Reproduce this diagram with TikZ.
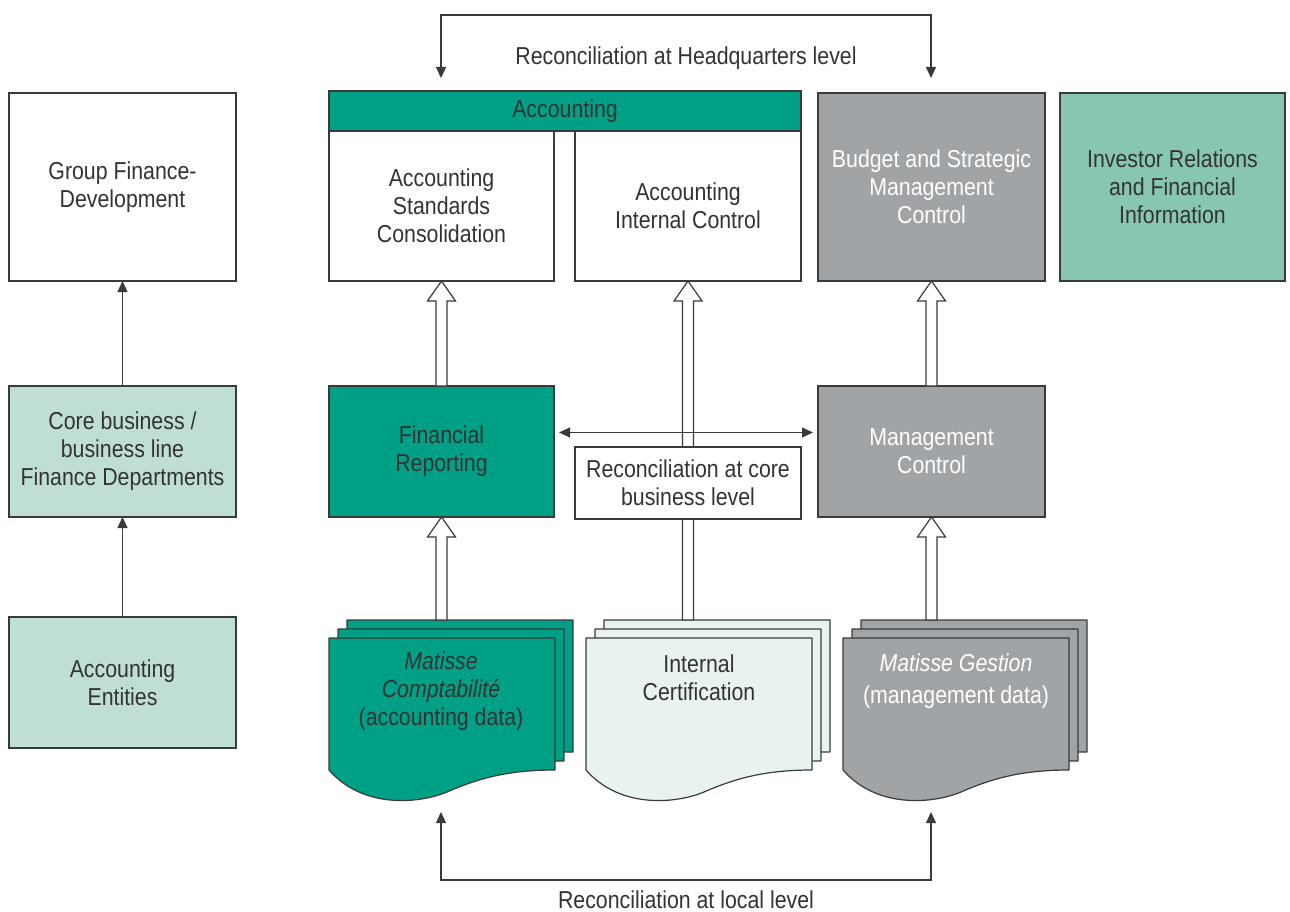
\documentclass[tikz,border=0pt]{standalone}
\usepackage{fontspec}
\setmainfont{Liberation Sans}[FakeStretch=0.87]
\usetikzlibrary{arrows.meta,calc}

\definecolor{accteal}{HTML}{00A087}
\definecolor{mgmtgray}{HTML}{A1A4A7}
\definecolor{invgreen}{HTML}{87C6B0}
\definecolor{palegreen}{HTML}{BEDFD2}
\definecolor{certpale}{HTML}{E8F3EF}
\definecolor{inkgray}{HTML}{3A3A3A}
\definecolor{txtgray}{HTML}{333333}

\tikzset{
  box/.style={draw=inkgray, line width=1.2pt, outer sep=0pt, inner sep=0pt,
    anchor=north west, align=center, text=txtgray},
  docline/.style={draw=inkgray, line width=1.2pt, line join=round},
  hollow/.style={draw=inkgray, fill=white, line width=1.2pt, line join=miter},
  tri/.tip={Triangle[width=10pt,length=11pt]},
  thinarrow/.style={draw=inkgray, line width=1.2pt, -tri},
  twoway/.style={draw=inkgray, line width=1.2pt, tri-tri},
  lbl/.style={text=txtgray, align=center, inner sep=0pt}
}

% one sheet of a document stack, top-left corner at (#1,#2)
\newcommand{\docpage}[3]{%
  \begin{scope}[shift={(#1,#2)}]
    \filldraw[docline, fill=#3] (0,0) -- (226,0) -- (226,132)
      .. controls (180,132) and (150,140) .. (118,154)
      .. controls (92,165) and (35,172) .. (0,132) -- cycle;
  \end{scope}}

% three stacked sheets, front sheet at (#1,#2)
\newcommand{\docstack}[3]{%
  \docpage{#1+18}{#2-18}{#3}%
  \docpage{#1+9}{#2-9}{#3}%
  \docpage{#1}{#2}{#3}}

% wide outlined arrow pointing up: from the level of #1 to the tip at #2
\newcommand{\hollowup}[2]{%
  \draw[hollow] let \p1=(#1), \p2=(#2) in
    (\x2-5.5pt,\y1) -- (\x2-5.5pt,\y2-20pt) -- (\x2-14pt,\y2-20pt) -- (\x2,\y2)
    -- (\x2+14pt,\y2-20pt) -- (\x2+5.5pt,\y2-20pt) -- (\x2+5.5pt,\y1) -- cycle;}

\begin{document}
\begin{tikzpicture}[x=1pt, y=-1pt, font=\fontsize{24.5}{28}\selectfont]
\useasboundingbox (0,0) rectangle (1290,912);

% left column
\node[box, fill=white, minimum width=227pt, minimum height=188pt] (gfd) at (9,93) {Group Finance-\\Development};
\node[box, fill=palegreen, minimum width=227pt, minimum height=131pt] (core) at (9,386) {Core business /\\business line\\Finance Departments};
\node[box, fill=palegreen, minimum width=227pt, minimum height=131pt] (ent) at (9,617) {Accounting\\Entities};

% headquarters row
\node[box, fill=accteal, minimum width=472pt, minimum height=40pt] (hdr) at (329,91) {Accounting};
\node[box, fill=white, minimum width=225pt, minimum height=150pt] (asc) at (329,131) {Accounting\\Standards\\Consolidation};
\node[box, fill=white, minimum width=226pt, minimum height=150pt] (aic) at (575,131) {Accounting\\Internal Control};
\node[box, fill=mgmtgray, text=white, minimum width=227pt, minimum height=188pt] (bsm) at (818,93) {Budget and Strategic\\Management\\Control};
\node[box, fill=invgreen, minimum width=225pt, minimum height=188pt] (inv) at (1060,93) {Investor Relations\\and Financial\\Information};

% core business row
\node[box, fill=accteal, minimum width=225pt, minimum height=131pt] (fr) at (329,386) {Financial\\Reporting};
\node[box, fill=mgmtgray, text=white, minimum width=227pt, minimum height=131pt] (mc) at (818,386) {Management\\Control};

% local document stacks
\docstack{329}{638}{accteal}
\docstack{586}{638}{certpale}
\docstack{843}{638}{mgmtgray}
\coordinate (mcback) at (441,620);
\coordinate (icback) at (688,620);
\coordinate (mgback) at (931,620);
\node[lbl] (mctxt) at (441,691) {\textit{Matisse}\\\textit{Comptabilité}\\(accounting data)};
\node[lbl] (ictxt) at (699,678) {Internal\\Certification};
\node[lbl, text=white] (mgtxt) at (956,681) {\textit{Matisse Gestion}\\[4pt](management data)};

% upward flows
\hollowup{fr.north}{asc.south}
\hollowup{mc.north}{bsm.south}
\hollowup{mcback}{fr.south}
\hollowup{mgback}{mc.south}
\hollowup{icback}{aic.south}

\node[box, fill=white, minimum width=226pt, minimum height=72pt] (rcb) at (575,447) {Reconciliation at core\\business level};

\draw[thinarrow] (core.north) -- (gfd.south);
\draw[thinarrow] (ent.north) -- (core.south);
\draw[twoway, shorten <=5pt, shorten >=5pt] ([yshift=19pt]fr.east) -- ([yshift=19pt]mc.west);

% headquarters reconciliation
\coordinate (hqL) at (441,78);
\coordinate (hqR) at (931,78);
\draw[twoway] (hqL) -- ++(0,-63) -| (hqR);
\node[lbl] (hqlbl) at (686,58) {Reconciliation at Headquarters level};

% local reconciliation
\coordinate (locL) at (441,812);
\coordinate (locR) at (931,812);
\draw[twoway] (locL) -- ++(0,68) -| (locR);
\node[lbl] (loclbl) at (686,900) {Reconciliation at local level};
\end{tikzpicture}
\end{document}
